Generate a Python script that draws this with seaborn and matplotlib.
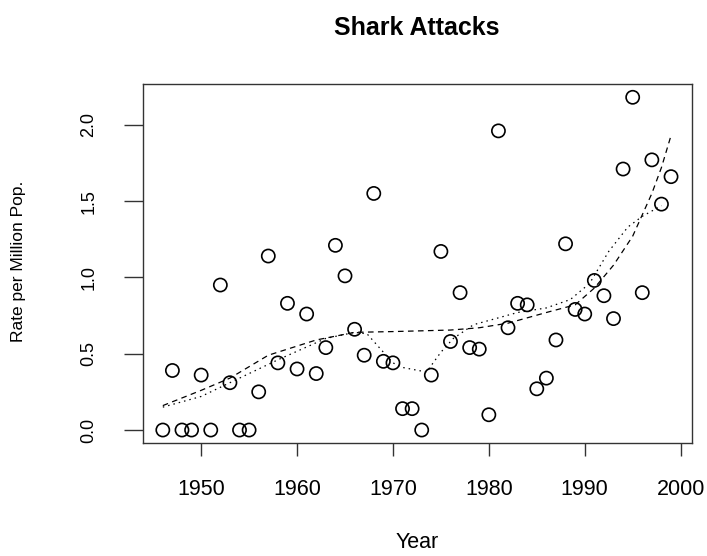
"""
Shark attacks per million population, 1946-1999, with two smooth trend lines.
"""

import matplotlib
matplotlib.use("Agg")
import matplotlib.pyplot as plt
import seaborn as sns
import pandas as pd

# yearly rate
years = list(range(1946, 2000))
rate = [0.00, 0.39, 0.00, 0.00, 0.36, 0.00, 0.95, 0.31, 0.00, 0.00,
        0.25, 1.14, 0.44, 0.83, 0.40, 0.76, 0.37, 0.54, 1.21, 1.01,
        0.66, 0.49, 1.55, 0.45, 0.44, 0.14, 0.14, 0.00, 0.36, 1.17,
        0.58, 0.90, 0.54, 0.53, 0.10, 1.96, 0.67, 0.83, 0.82, 0.27,
        0.34, 0.59, 1.22, 0.79, 0.76, 0.98, 0.88, 0.73, 1.71, 2.18,
        0.90, 1.77, 1.48, 1.66]

# wide smoother (dashed)
smooth_years = [1946, 1950, 1953, 1957, 1962, 1966, 1970, 1976, 1979,
                1982, 1986, 1989, 1991, 1993, 1995, 1997, 1998, 1999]
smooth_vals = [0.16, 0.26, 0.34, 0.49, 0.59, 0.64, 0.645, 0.655, 0.67,
               0.70, 0.77, 0.82, 0.93, 1.08, 1.27, 1.55, 1.72, 1.93]

# local smoother (dotted)
local_years = [1946, 1950, 1953, 1958, 1963, 1966, 1967.3, 1969, 1970,
               1971, 1973.5, 1975, 1976.3, 1978.4, 1981, 1983, 1986,
               1988.5, 1990.5, 1992.5, 1994.5, 1996, 1998]
local_vals = [0.15, 0.22, 0.31, 0.46, 0.60, 0.64, 0.63, 0.51, 0.44,
              0.41, 0.38, 0.51, 0.60, 0.69, 0.735, 0.77, 0.80,
              0.855, 0.96, 1.17, 1.33, 1.40, 1.47]

x_ticks = [1950, 1960, 1970, 1980, 1990, 2000]
y_ticks = [0.0, 0.5, 1.0, 1.5, 2.0]

sns.set_style("white")
plt.rcParams["font.family"] = ["Liberation Sans", "DejaVu Sans"]
plt.rcParams["text.color"] = "black"
plt.rcParams["xtick.color"] = "black"
plt.rcParams["ytick.color"] = "black"

df = pd.DataFrame({"year": years, "rate": rate})
df_smooth = pd.DataFrame({"year": smooth_years, "rate": smooth_vals})
df_local = pd.DataFrame({"year": local_years, "rate": local_vals})

fig = plt.figure(figsize=(7.07, 5.56), dpi=100)
ax = fig.add_axes([0.2018, 0.2027, 0.7765, 0.6462])

sns.scatterplot(data=df, x="year", y="rate", ax=ax, marker="o", s=90,
                color="black", facecolor="none", edgecolor="black",
                linewidth=1.2, zorder=3)
sns.lineplot(data=df_smooth, x="year", y="rate", ax=ax, color="black",
             linewidth=0.9, linestyle=(0, (4.5, 3.5)))
sns.lineplot(data=df_local, x="year", y="rate", ax=ax, color="black",
             linewidth=0.9, linestyle=(0, (1.2, 3.2)))

ax.set_xlim(1943.9, 2001.15)
ax.set_ylim(-0.087, 2.267)
ax.set_xticks(x_ticks)
ax.set_xticklabels([str(t) for t in x_ticks])
ax.set_yticks(y_ticks)
ax.set_yticklabels([f"{t:.1f}" for t in y_ticks])
ax.set_xlabel("")
ax.set_ylabel("")

for side in ["top", "bottom", "left", "right"]:
    ax.spines[side].set_color("#333333")
    ax.spines[side].set_linewidth(1.0)

ax.tick_params(axis="x", length=9.5, width=1.0, color="#333333",
               labelcolor="black", pad=16, labelsize=15.5,
               direction="out", bottom=True)
ax.tick_params(axis="y", length=13.5, width=1.0, color="#333333",
               labelcolor="black", pad=19, labelsize=13,
               direction="out", left=True, labelrotation=90)
for lbl in ax.get_yticklabels():
    lbl.set_va("center")

fig.text(417 / 707, 1 - 28 / 556, "Shark Attacks", ha="center", va="center",
         fontsize=18, fontweight="bold", color="black")
fig.text(417 / 707, 1 - 542 / 556, "Year", ha="center", va="center",
         fontsize=15.5, color="black")
fig.text(19 / 707, 1 - 261 / 556, "Rate per Million Pop.", ha="center",
         va="center", rotation=90, fontsize=12.5, color="black")

fig.savefig("out.png", dpi=100)
plt.close(fig)
